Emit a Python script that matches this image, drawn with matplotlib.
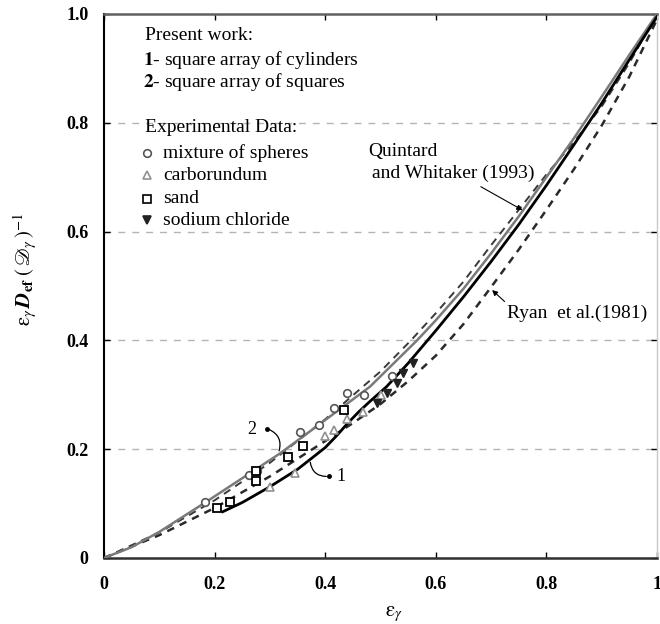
import matplotlib
matplotlib.use("Agg")
import matplotlib.pyplot as plt

plt.rcParams['font.family'] = ['Liberation Serif', 'DejaVu Serif']
plt.rcParams['mathtext.fontset'] = 'stix'

# ---- data ----
# curve 1: square array of cylinders (starts at minimum porosity)
c1_x = [0.2146, 0.25, 0.30, 0.35, 0.3725, 0.40, 0.42, 0.44, 0.46, 0.48, 0.511, 0.55, 0.60,
        0.65, 0.70, 0.75, 0.80, 0.85, 0.90, 0.95, 1.0]
c1_y = [0.085, 0.102, 0.131, 0.163, 0.181, 0.203, 0.224, 0.247, 0.268, 0.287, 0.315, 0.358, 0.418,
        0.480, 0.545, 0.613, 0.685, 0.760, 0.836, 0.916, 0.995]
# curve 2: square array of squares
c2_x = [0.0, 0.05, 0.10, 0.18, 0.27, 0.318, 0.39, 0.481, 0.566, 0.60, 0.65, 0.70, 0.75,
        0.80, 0.85, 0.90, 0.95, 1.0]
c2_y = [0.0, 0.020, 0.048, 0.100, 0.160, 0.192, 0.246, 0.315, 0.400, 0.437, 0.495, 0.560, 0.628,
        0.700, 0.772, 0.848, 0.925, 1.0]
# Quintard and Whitaker (1993)
qw_x = [0.0, 0.10, 0.20, 0.30, 0.40, 0.50, 0.555, 0.60, 0.65, 0.70, 0.75, 0.80, 0.85, 0.90, 0.95, 1.0]
qw_y = [0.0, 0.047, 0.106, 0.175, 0.255, 0.343, 0.400, 0.450, 0.508, 0.575, 0.640, 0.705, 0.765,
        0.830, 0.910, 1.0]
# Ryan et al. (1981)
ry_x = [0.0, 0.10, 0.20, 0.30, 0.40, 0.45, 0.50, 0.55, 0.60, 0.65, 0.70, 0.75, 0.80, 0.85, 0.90,
        0.95, 1.0]
ry_y = [0.0, 0.042, 0.092, 0.150, 0.215, 0.248, 0.283, 0.325, 0.372, 0.430, 0.498, 0.567, 0.640,
        0.715, 0.795, 0.885, 0.99]

# experimental data
sph_x = [0.183, 0.262, 0.276, 0.354, 0.388, 0.415, 0.439, 0.47, 0.52]
sph_y = [0.102, 0.152, 0.159, 0.232, 0.244, 0.275, 0.303, 0.30, 0.335]
car_x = [0.30, 0.345, 0.40, 0.415, 0.44, 0.469, 0.50]
car_y = [0.131, 0.156, 0.225, 0.235, 0.255, 0.269, 0.30]
sand_x = [0.204, 0.227, 0.274, 0.275, 0.332, 0.359, 0.434]
sand_y = [0.091, 0.102, 0.142, 0.160, 0.185, 0.206, 0.272]
nacl_x = [0.493, 0.511, 0.529, 0.541, 0.559]
nacl_y = [0.284, 0.303, 0.321, 0.340, 0.358]

xticks = [0, 0.2, 0.4, 0.6, 0.8, 1.0]
xticklabels = ['0', '0.2', '0.4', '0.6', '0.8', '1']
yticks = [0, 0.2, 0.4, 0.6, 0.8, 1.0]
yticklabels = ['0', '0.2', '0.4', '0.6', '0.8', '1.0']

fig = plt.figure(figsize=(6.6, 6.24), dpi=100)
ax = fig.add_axes([0.1576, 0.1058, 0.8379, 0.8718])
ax.set_xlim(0, 1)
ax.set_ylim(0, 1)

for g in [0.2, 0.4, 0.6, 0.8]:
    ax.axhline(g, color='#b4b4b4', lw=1.0, ls=(0, (5, 5)), zorder=0)

ax.plot(qw_x, qw_y, color='#3a3a3a', lw=1.4, ls=(0, (4, 3)), zorder=2)
ax.plot(ry_x, ry_y, color='#2a2a2a', lw=1.8, ls=(0, (3, 2.5)), zorder=2)
ax.plot(c2_x, c2_y, color='#7a7a7a', lw=1.8, zorder=3)
ax.plot(c1_x, c1_y, color='black', lw=2.0, zorder=4)

ms = 5.5
ax.plot(sph_x, sph_y, ls='none', marker='o', ms=ms, mfc='white', mec='#555555', mew=1.2, zorder=5)
ax.plot(car_x, car_y, ls='none', marker='^', ms=ms, mfc='white', mec='#909090', mew=1.2, zorder=5)
ax.plot(sand_x, sand_y, ls='none', marker='s', ms=ms, mfc='white', mec='black', mew=1.3, zorder=6)
ax.plot(nacl_x, nacl_y, ls='none', marker='v', ms=ms, mfc='#222222', mec='#222222', zorder=5)

ax.set_xticks(xticks)
ax.set_xticklabels(xticklabels)
ax.set_yticks(yticks)
ax.set_yticklabels(yticklabels)
ax.tick_params(direction='in', length=4, top=True, right=True, labelsize=13, width=1)
ax.tick_params(axis='x', pad=13)
ax.tick_params(axis='y', pad=11)
for lab in ax.get_xticklabels() + ax.get_yticklabels():
    lab.set_fontweight('bold')

ax.spines['left'].set_color('black')
ax.spines['left'].set_linewidth(1.5)
ax.spines['bottom'].set_color('#303030')
ax.spines['bottom'].set_linewidth(1.8)
ax.spines['top'].set_color('#606060')
ax.spines['top'].set_linewidth(1.8)
ax.spines['right'].set_color('#c8c8c8')
ax.spines['right'].set_linewidth(1.0)

ax.set_xlabel(r'$\mathrm{\varepsilon}_\gamma$', fontsize=15)
ax.xaxis.set_label_coords(0.524, -0.085)
ax.set_ylabel(r'$\mathrm{\varepsilon}_\gamma\,\mathbfit{D}_{\mathbf{ef}}\;(\,\mathscr{D}_\gamma\,)^{-1}$', fontsize=15)
ax.yaxis.set_label_coords(-0.118, 0.53)

# legend-like text block
fs = 14
T = ax.transAxes
ax.text(0.074, 0.961, 'Present work:', transform=T, fontsize=fs, va='center', ha='left')
ax.text(0.0705, 0.915, r'$\mathbf{1}$- square array of cylinders', transform=T, fontsize=fs, va='center', ha='left')
ax.text(0.0705, 0.875, r'$\mathbf{2}$- square array of squares', transform=T, fontsize=fs, va='center', ha='left')
ax.text(0.074, 0.792, 'Experimental Data:', transform=T, fontsize=fs, va='center', ha='left')
leg_items = [('o', 'white', '#555555', 'mixture of spheres', 0.744),
             ('^', 'white', '#909090', 'carborundum', 0.704),
             ('s', 'white', 'black', 'sand', 0.660),
             ('v', '#222222', '#222222', 'sodium chloride', 0.621)]
for mk, fc, ec, lab, yy in leg_items:
    ax.plot([0.077], [yy], transform=T, marker=mk, ms=ms, mfc=fc, mec=ec, mew=1.2, ls='none', clip_on=False)
    ax.text(0.107, yy, lab, transform=T, fontsize=fs, va='center', ha='left')

# Quintard annotation
ax.text(0.477, 0.748, 'Quintard', fontsize=fs, va='center', ha='left', transform=T)
ax.text(0.485, 0.707, 'and Whitaker (1993)', fontsize=fs, va='center', ha='left', transform=T)
ax.annotate('', xy=(0.761, 0.637), xytext=(0.677, 0.685),
            arrowprops=dict(arrowstyle='-|>', color='black', lw=0.8, mutation_scale=8))
# Ryan annotation
ax.text(0.728, 0.450, 'Ryan  et al.(1981)', fontsize=fs, va='center', ha='left', transform=T)
ax.annotate('', xy=(0.698, 0.496), xytext=(0.728, 0.468),
            arrowprops=dict(arrowstyle='-|>', color='black', lw=0.8, mutation_scale=8))

# curve labels
ax.text(0.276, 0.236, '2', fontsize=13, va='center', ha='right', transform=T)
ax.annotate('', xy=(0.315, 0.192), xytext=(0.294, 0.238),
            arrowprops=dict(arrowstyle='-', color='black', lw=0.9, connectionstyle='arc3,rad=-0.5'))
ax.plot([0.294], [0.238], marker='o', ms=2.5, color='black', transform=T, clip_on=False)
ax.text(0.420, 0.150, '1', fontsize=13, va='center', ha='left', transform=T)
ax.annotate('', xy=(0.3725, 0.181), xytext=(0.407, 0.150),
            arrowprops=dict(arrowstyle='-', color='black', lw=0.9, connectionstyle='arc3,rad=-0.5'))
ax.plot([0.407], [0.150], marker='o', ms=2.5, color='black', transform=T, clip_on=False)

fig.savefig('out.png', dpi=100)
